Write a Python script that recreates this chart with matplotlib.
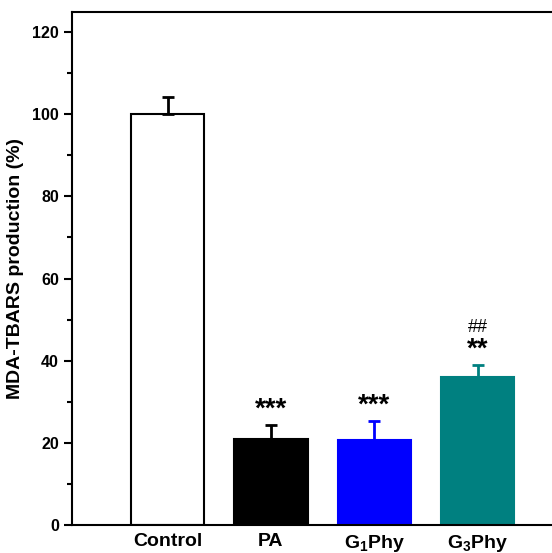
import matplotlib.pyplot as plt
import numpy as np

plt.rcParams['font.family'] = ['Liberation Sans', 'DejaVu Sans']
plt.rcParams['font.weight'] = 'bold'
plt.rcParams['mathtext.fontset'] = 'custom'
plt.rcParams['mathtext.rm'] = 'Liberation Sans:bold'
plt.rcParams['mathtext.bf'] = 'Liberation Sans:bold'

# данные
groups = ['Control', 'PA', 'G$_{1}$Phy', 'G$_{3}$Phy']
values = [100.0, 20.9, 20.7, 36.0]
errors = [4.2, 3.4, 4.6, 2.9]
signif = ['', '***', '***', '**']
signif2 = ['', '', '', '##']
face_colors = ['white', 'black', '#0000ff', '#008080']
edge_colors = ['black', 'black', '#0000ff', '#008080']

fig = plt.figure(figsize=(5.52, 5.53), dpi=100)
ax = fig.add_axes([0.1304, 0.0506, 0.8696, 0.9277])

x = np.arange(1, len(groups) + 1)
ax.bar(x, values, width=0.71, color=face_colors, edgecolor=edge_colors, linewidth=1.5, zorder=2)
for xi, v, e, c in zip(x, values, errors, edge_colors):
    ax.errorbar(xi, v, yerr=[[0], [e]], fmt='none', ecolor=c, elinewidth=2, capsize=4, capthick=2, zorder=3)

# звездочки
for xi, v, e, s, s2 in zip(x, values, errors, signif, signif2):
    if s:
        ax.text(xi, v + e + 3.7, s, ha='center', va='center', fontsize=20)
    if s2:
        ax.text(xi, v + e + 9.3, s2, ha='center', va='center', fontsize=13, fontweight='normal')

ax.set_xlim(0.074, 4.72)
ax.set_ylim(0, 124.9)
ax.set_xticks(x)
ax.set_xticklabels(groups, fontsize=14, fontweight='bold')
ax.tick_params(axis='x', length=0, pad=6)
ax.set_yticks(np.arange(0, 121, 20))
ax.set_yticks(np.arange(0, 121, 10), minor=True)
ax.tick_params(axis='y', which='major', length=6, width=1.5, labelsize=11.5)
ax.tick_params(axis='y', which='minor', length=3.5, width=1.5)
for lab in ax.get_yticklabels():
    lab.set_fontweight('bold')
ax.set_ylabel('MDA-TBARS production (%)', fontsize=14, fontweight='bold', labelpad=6)

for sp in ['left', 'bottom', 'top']:
    ax.spines[sp].set_linewidth(1.5)
ax.spines['right'].set_visible(False)

plt.savefig('out.png', dpi=100)
